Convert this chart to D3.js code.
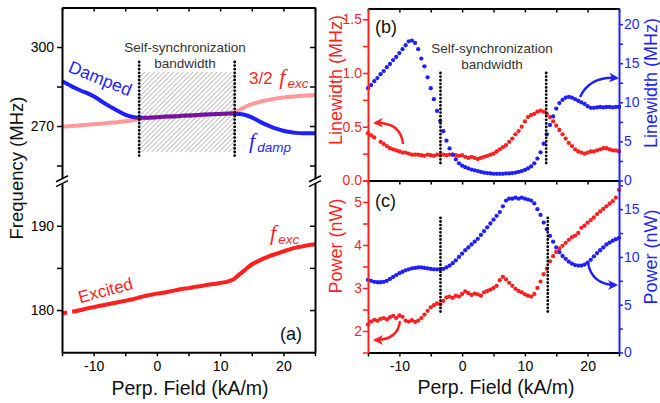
<!DOCTYPE html>
<html><head><meta charset="utf-8">
<script src="https://cdn.jsdelivr.net/npm/d3@7"></script>
<style>body{margin:0;background:#fff}svg{display:block}text{font-family:Arial,"Liberation Sans",sans-serif}</style>
</head><body><svg id="chart" width="660" height="403"></svg>
<script>
// ---------------- DATA ----------------
// Panel (a): frequencies (MHz) vs perpendicular field (kA/m)
const fieldA = d3.range(-15, 26, 1);
const dampedA = [287.0,285.8,284.5,283.4,282.5,281.3,279.8,278.2,276.8,275.5,
  274.3,273.5,273.1,273.1,273.2,273.3,273.5,273.6,273.7,273.9,
  274.0,274.1,274.3,274.4,274.5,274.6,274.7,274.8,274.6,274.2,
  273.3,272.0,270.8,269.8,268.9,268.2,267.7,267.4,267.3,267.3,267.3];
const halfExcA = [269.7,269.9,270.1,270.3,270.5,270.7,270.9,271.1,271.3,271.5,
  271.8,272.1,272.5,272.9,273.1,273.3,273.5,273.6,273.7,273.9,
  274.0,274.1,274.3,274.4,274.5,274.6,274.7,275.0,276.0,277.3,
  278.3,279.0,279.6,280.1,280.5,280.8,281.1,281.3,281.5,281.7,281.8];
const excitedField = [-15,-14.5,-14.2,-13.9,-13.4,-13].concat(d3.range(-12, 26, 1));
const excitedA = [179.6,179.68,179.72,null,179.8,179.85,
  180.0,180.2,180.35,180.5,180.65,180.8,180.95,181.1,181.25,181.45,
  181.65,181.8,181.95,182.05,182.2,182.35,182.5,182.6,182.75,182.85,
  183.0,183.1,183.2,183.35,183.6,184.2,184.8,185.4,185.8,186.15,
  186.45,186.7,186.95,187.2,187.4,187.55,187.7,187.8];

// Panels (b),(c): measured points every 0.5 kA/m
const fieldBC = d3.range(-15, 25.001, 0.5);
const lwExc = [0.44,0.42,0.40,null,0.36,0.34,0.32,0.30,0.29,0.28,
  0.27,0.26,0.26,0.25,0.24,0.24,0.24,0.235,0.23,0.24,
  0.235,0.23,0.24,0.235,0.24,0.235,0.24,0.24,0.235,0.23,
  0.235,0.22,0.21,0.22,0.21,0.20,0.21,0.22,0.23,0.24,
  0.25,0.27,0.29,0.31,0.33,0.36,0.39,0.43,0.46,0.50,
  0.55,0.59,0.61,0.62,0.64,0.65,0.64,0.62,0.59,0.55,
  0.51,0.47,0.43,0.39,0.35,0.32,0.29,0.27,0.26,0.25,
  0.26,0.27,0.27,0.28,0.29,0.30,0.30,0.29,0.28,0.28,0.27];
const lwDamp = [11.8,12.2,12.7,13.1,13.6,14.0,14.5,14.9,15.4,15.8,
  16.3,16.8,17.3,17.8,17.9,17.6,16.8,15.6,14.6,13.2,
  11.8,10.4,8.9,7.6,6.3,5.1,4.1,3.3,2.7,2.2,
  1.9,1.7,1.55,1.4,1.3,1.2,1.1,1.0,0.95,0.9,
  0.85,0.85,0.85,0.85,0.9,0.9,0.95,1.0,1.1,1.2,
  1.35,1.55,1.8,2.2,2.8,3.6,4.7,5.9,7.1,8.2,
  9.2,9.9,10.3,10.6,10.7,10.6,10.4,10.2,10.0,9.8,
  9.5,9.3,9.3,9.35,9.4,9.35,9.4,9.4,9.35,9.4,9.4];
const pwExc = [2.15,2.22,2.26,2.24,2.28,2.30,2.27,2.32,2.35,2.30,
  2.36,2.33,2.24,2.22,2.25,2.21,2.24,2.30,2.38,2.47,
  2.55,2.60,2.64,2.62,2.70,2.78,2.80,2.77,2.82,2.80,
  2.86,2.92,2.88,2.84,2.87,2.85,2.82,2.90,2.93,2.96,
  3.00,3.05,3.18,3.26,3.20,3.12,3.05,2.98,2.93,2.90,
  2.85,2.82,2.80,2.86,3.00,3.15,3.32,3.45,3.62,3.74,
  3.84,3.92,3.98,4.05,4.12,4.18,4.22,4.28,4.40,4.45,
  4.52,4.58,4.64,4.72,4.78,4.84,4.90,4.96,5.02,5.10,5.28];
const pwDamp = [7.6,7.5,7.4,7.35,7.35,7.4,7.5,7.7,7.9,8.1,
  8.3,8.45,8.6,8.7,8.8,8.85,8.9,8.9,8.85,8.8,
  8.75,8.7,8.7,8.7,8.75,8.9,9.1,9.35,9.65,10.0,
  10.35,10.7,11.0,11.3,11.6,11.9,12.3,12.7,13.1,13.5,
  13.9,14.3,14.7,15.3,15.9,16.1,16.1,16.2,16.1,16.2,
  16.1,16.0,15.9,15.6,15.0,14.4,13.6,12.9,12.2,11.6,
  11.0,10.5,10.1,9.8,9.5,9.3,9.15,9.1,9.1,9.2,
  9.4,9.7,10.05,10.4,10.7,11.0,11.3,11.5,11.7,11.85,12.0];

// bandwidth limits (kA/m) and vertical extents of the dotted markers
const bwA = [-2.8, 12.3], bwAy = [294.3, 257.8], hatchAy = [290.5, 260.1];
const bwB = [-3.45, 13.4], bwBy = [1.0, 0.14];
const bwC = [-3.45, 13.65], bwCy = [4.63, 2.39];

// tick values / labels
const xTicks = d3.range(-15, 26, 5), xLabels = [-10, 0, 10, 20];
const aUpTicks = [255, 270, 285, 300], aUpLabels = [270, 300];
const aLoTicks = [180, 185, 190], aLoLabels = [180, 190];
const bLTicks = d3.range(0, 1.61, 0.25), bLLabels = [0, 0.5, 1, 1.5];
const bRTicks = d3.range(0, 21, 2.5), bRLabels = [0, 5, 10, 15, 20];
const cLTicks = d3.range(1.5, 5.51, 0.5), cLLabels = [2, 3, 4, 5];
const cRTicks = d3.range(0, 18, 2.5), cRLabels = [0, 5, 10, 15];

// ---------------- DRAW ----------------
const RED = "#ff1f1f", BLUE = "#1f1fff";
const SERIF = '"Liberation Serif","Times New Roman",serif';
const R = 2.15;
const svg = d3.select("#chart");

const xA = d3.scaleLinear().domain([-15, 25]).range([62, 315]);
const yAup = d3.scaleLinear().domain([250, 315]).range([178.7, 7.5]);
const yAlo = d3.scaleLinear().domain([175, 195]).range([352.2, 183.6]);
const xB = d3.scaleLinear().domain([-15, 25]).range([368, 619]);
const yBL = d3.scaleLinear().domain([0, 1.6]).range([180.5, 8.5]);
const yBR = d3.scaleLinear().domain([0, 22]).range([180.5, 8.5]);
const yCL = d3.scaleLinear().domain([1.5, 5.5]).range([352.5, 180.5]);
const yCR = d3.scaleLinear().domain([0, 18]).range([352.5, 180.5]);

function fmtFrom(labels, f) {
  return d => labels.some(l => Math.abs(l - d) < 1e-9) ? f(d) : "";
}
function style(g, color) {
  g.select(".domain").attr("stroke", color).attr("stroke-width", 2);
  g.selectAll(".tick line").attr("stroke", color).attr("stroke-width", 1.5);
  g.selectAll(".tick text").attr("fill", color).attr("font-size", 14)
    .attr("font-family", 'Arial,"Liberation Sans",sans-serif');
  return g;
}
function addAxis(axis, tx, ty, color) {
  const g = svg.append("g").attr("transform", `translate(${tx},${ty})`).call(axis);
  return style(g, color);
}
const hy = d => String(d);

// hatch pattern
const defs = svg.append("defs");
defs.append("pattern").attr("id", "hatch").attr("patternUnits", "userSpaceOnUse")
  .attr("width", 3.4).attr("height", 3.4).attr("patternTransform", "rotate(45)")
  .append("line").attr("x1", 0).attr("y1", 0).attr("x2", 0).attr("y2", 3.4)
  .attr("stroke", "#666").attr("stroke-width", 0.8);
function marker(id, color) {
  defs.append("marker").attr("id", id).attr("viewBox", "0 0 10 10").attr("refX", 8).attr("refY", 5)
    .attr("markerUnits", "userSpaceOnUse").attr("markerWidth", 10).attr("markerHeight", 10)
    .attr("orient", "auto").append("path").attr("d", "M0,0 L10,5 L0,10 L3,5 Z").attr("fill", color);
}
marker("arR", RED); marker("arB", BLUE);

// ---------- Panel (a) ----------
svg.append("rect").attr("x", xA(bwA[0])).attr("y", yAup(hatchAy[0]))
  .attr("width", xA(bwA[1]) - xA(bwA[0])).attr("height", yAup(hatchAy[1]) - yAup(hatchAy[0]))
  .attr("fill", "url(#hatch)");

const lineA = d3.line().defined(d => d[1] != null).curve(d3.curveMonotoneX);
svg.append("path").attr("d", lineA.x(d => xA(d[0])).y(d => yAup(d[1]))(fieldA.map((f, i) => [f, dampedA[i]])))
  .attr("fill", "none").attr("stroke", BLUE).attr("stroke-width", 4);
svg.append("path").attr("d", lineA.x(d => xA(d[0])).y(d => yAup(d[1]))(fieldA.map((f, i) => [f, halfExcA[i]])))
  .attr("fill", "none").attr("stroke", "rgba(255,0,0,0.4)").attr("stroke-width", 4);
svg.append("path").attr("d", lineA.x(d => xA(d[0])).y(d => yAlo(d[1]))(excitedField.map((f, i) => [f, excitedA[i]])))
  .attr("fill", "none").attr("stroke", RED).attr("stroke-width", 4);

// axes (a)
addAxis(d3.axisBottom(xA).tickValues(xTicks).tickSize(4).tickSizeOuter(0).tickPadding(5).tickFormat(fmtFrom(xLabels, hy)), 0, 352.2, "#000");
addAxis(d3.axisBottom(xA).tickValues(xTicks).tickSize(4).tickSizeOuter(0).tickFormat(""), 0, 7.5, "#000");
addAxis(d3.axisLeft(yAup).tickValues(aUpTicks).tickSize(5).tickSizeOuter(0).tickPadding(3).tickFormat(fmtFrom(aUpLabels, hy)), 62, 0, "#000");
addAxis(d3.axisLeft(yAlo).tickValues(aLoTicks).tickSize(5).tickSizeOuter(0).tickPadding(3).tickFormat(fmtFrom(aLoLabels, hy)), 62, 0, "#000");
addAxis(d3.axisLeft(yAup).tickValues(aUpTicks).tickSize(5).tickSizeOuter(0).tickFormat(""), 315, 0, "#000");
addAxis(d3.axisLeft(yAlo).tickValues(aLoTicks).tickSize(5).tickSizeOuter(0).tickFormat(""), 315, 0, "#000");
// axis break marks
[62, 315].forEach(x => {
  const yc = (yAup.range()[0] + yAlo.range()[1]) / 2;
  [-2.4, 2.4].forEach(o => svg.append("line")
    .attr("x1", x - 6).attr("y1", yc + o + 3).attr("x2", x + 6).attr("y2", yc + o - 3)
    .attr("stroke", "#000").attr("stroke-width", 1.5));
});

// dotted bandwidth lines
function dotted(x, y1, y2) {
  svg.append("line").attr("x1", x).attr("x2", x).attr("y1", y1).attr("y2", y2)
    .attr("stroke", "#000").attr("stroke-width", 2.8).attr("stroke-linecap", "round")
    .attr("stroke-dasharray", "0 3.6");
}
bwA.forEach(f => dotted(xA(f), yAup(bwAy[0]), yAup(bwAy[1])));

// annotations (a)
function txt(x, y, s, o) {
  const t = svg.append("text").attr("x", x).attr("y", y).text(s);
  Object.entries(o || {}).forEach(([k, v]) => t.attr(k, v));
  return t;
}
txt(185, 52, "Self-synchronization", {"text-anchor": "middle", "font-size": 13.5, fill: "#333"});
txt(185, 67.5, "bandwidth", {"text-anchor": "middle", "font-size": 13.5, fill: "#333"});
txt(0, 0, "Damped", {"font-size": 17.5, fill: BLUE, "text-anchor": "middle", transform: "translate(98,84) rotate(22)"});
txt(0, 0, "Excited", {"font-size": 17, fill: RED, "text-anchor": "middle", transform: "translate(107,296) rotate(-15)"});
txt(302, 340, "(a)", {"font-size": 18, fill: "#111", "text-anchor": "end"});

function fLabel(x, y, color, sub, pre) {
  const t = svg.append("text").attr("x", x).attr("y", y).attr("fill", color).attr("font-size", 17);
  if (pre) t.append("tspan").text(pre);
  t.append("tspan").attr("font-family", SERIF).attr("font-style", "italic").attr("font-size", 22)
    .attr("dx", pre ? 2 : 0).text("f");
  t.append("tspan").attr("font-style", "italic").attr("font-size", 13.5).attr("dy", 4).attr("dx", 2).text(sub);
}
fLabel(249, 84, RED, "exc", "3/2 ");
fLabel(249, 148, BLUE, "damp");
fLabel(270, 240, RED, "exc");

// ---------- Panel (b) ----------
svg.append("g").selectAll("circle").data(fieldBC.map((f, i) => [f, lwExc[i]]).filter(d => d[1] != null))
  .join("circle").attr("cx", d => xB(d[0])).attr("cy", d => yBL(d[1])).attr("r", R).attr("fill", RED);
svg.append("g").selectAll("circle").data(fieldBC.map((f, i) => [f, lwDamp[i]]))
  .join("circle").attr("cx", d => xB(d[0])).attr("cy", d => yBR(d[1])).attr("r", R).attr("fill", BLUE);
bwB.forEach(f => dotted(xB(f), yBL(bwBy[0]), yBL(bwBy[1])));

addAxis(d3.axisBottom(xB).tickValues(xTicks).tickSize(4).tickSizeOuter(0).tickFormat(""), 0, 8.5, "#000");
addAxis(d3.axisBottom(xB).tickValues(xTicks).tickSize(4).tickSizeOuter(0).tickFormat(""), 0, 180.5, "#000");
addAxis(d3.axisLeft(yBL).tickValues(bLTicks).tickSize(5).tickSizeOuter(0).tickPadding(1).tickFormat(fmtFrom(bLLabels, d3.format(".1f"))), 368, 0, RED);
addAxis(d3.axisRight(yBR).tickValues(bRTicks).tickSize(4).tickSizeOuter(0).tickPadding(1).tickFormat(fmtFrom(bRLabels, hy)), 619, 0, BLUE);

txt(375, 33, "(b)", {"font-size": 18, fill: "#111"});
txt(492, 53, "Self-synchronization", {"text-anchor": "middle", "font-size": 13.5, fill: "#333"});
txt(492, 68.5, "bandwidth", {"text-anchor": "middle", "font-size": 13.5, fill: "#333"});

// ---------- Panel (c) ----------
svg.append("g").selectAll("circle").data(fieldBC.map((f, i) => [f, pwDamp[i]]))
  .join("circle").attr("cx", d => xB(d[0])).attr("cy", d => yCR(d[1])).attr("r", R).attr("fill", BLUE);
svg.append("g").selectAll("circle").data(fieldBC.map((f, i) => [f, pwExc[i]]))
  .join("circle").attr("cx", d => xB(d[0])).attr("cy", d => yCL(d[1])).attr("r", R).attr("fill", RED);
bwC.forEach(f => dotted(xB(f), yCL(bwCy[0]), yCL(bwCy[1])));

addAxis(d3.axisBottom(xB).tickValues(xTicks).tickSize(4).tickSizeOuter(0).tickPadding(5).tickFormat(fmtFrom(xLabels, hy)), 0, 352.5, "#000");
addAxis(d3.axisLeft(yCL).tickValues(cLTicks).tickSize(5).tickSizeOuter(0).tickPadding(1).tickFormat(fmtFrom(cLLabels, hy)), 368, 0, RED);
addAxis(d3.axisRight(yCR).tickValues(cRTicks).tickSize(4).tickSizeOuter(0).tickPadding(1).tickFormat(fmtFrom(cRLabels, hy)), 619, 0, BLUE);

txt(375, 207, "(c)", {"font-size": 18, fill: "#111"});

// arrows (annotation glyphs)
function arrow(d, color, m) {
  svg.append("path").attr("d", d).attr("fill", "none").attr("stroke", color)
    .attr("stroke-width", 2.4).attr("marker-end", `url(#${m})`);
}
arrow("M403,144 Q401,122 375,123", RED, "arR");
arrow("M580,97 Q590,76 617,78", BLUE, "arB");
arrow("M400,321 Q398,340 375,340", RED, "arR");
arrow("M588,263 Q592,285 616,285", BLUE, "arB");

// ---------- Axis titles ----------
txt(0, 0, "Frequency (MHz)", {"font-size": 18.5, fill: "#111", "text-anchor": "middle", transform: "translate(23,168) rotate(-90)"});
txt(190, 395, "Perp. Field (kA/m)", {"font-size": 19.5, fill: "#111", "text-anchor": "middle"});
txt(496, 394, "Perp. Field (kA/m)", {"font-size": 19.5, fill: "#111", "text-anchor": "middle"});
txt(0, 0, "Linewidth (MHz)", {"font-size": 18, fill: RED, "text-anchor": "middle", transform: "translate(342,80) rotate(-90)"});
txt(0, 0, "Linewidth (MHz)", {"font-size": 18, fill: BLUE, "text-anchor": "middle", transform: "translate(657,83) rotate(-90)"});
txt(0, 0, "Power (nW)", {"font-size": 18, fill: RED, "text-anchor": "middle", transform: "translate(342,246) rotate(-90)"});
txt(0, 0, "Power (nW)", {"font-size": 18, fill: BLUE, "text-anchor": "middle", transform: "translate(657,257) rotate(-90)"});
</script></body></html>
